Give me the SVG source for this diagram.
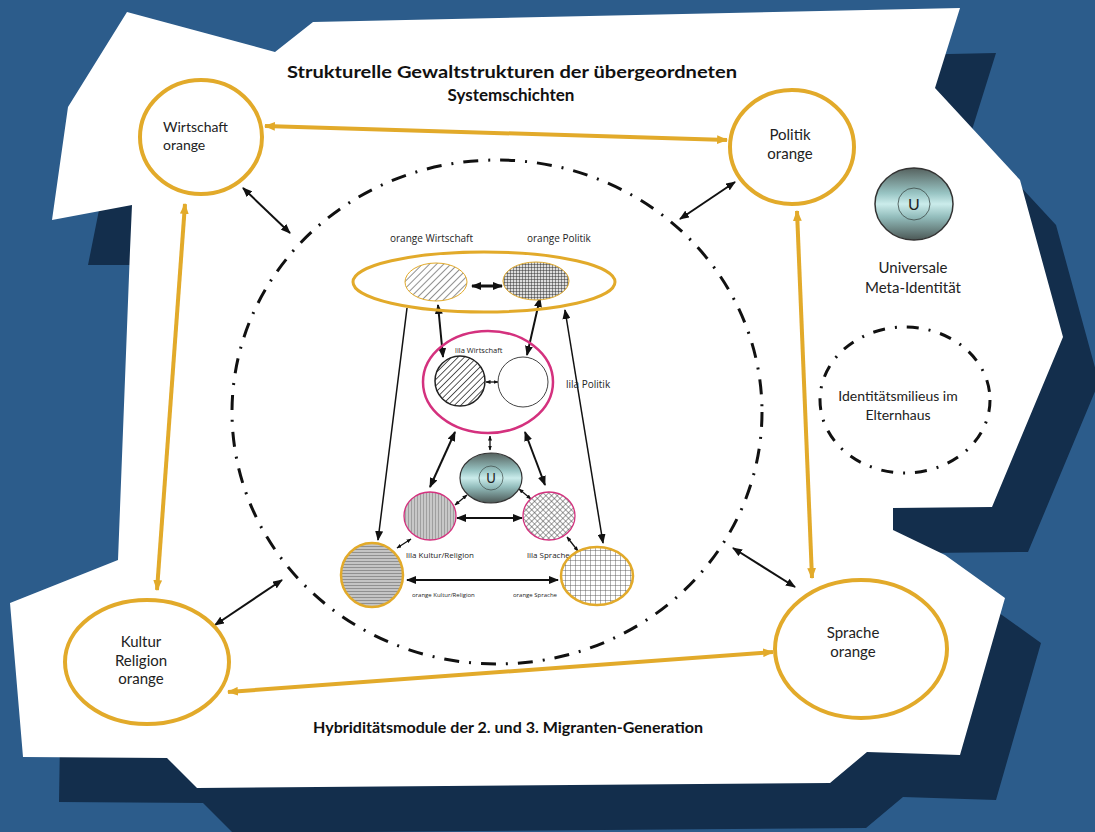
<svg xmlns="http://www.w3.org/2000/svg" width="1095" height="832" viewBox="0 0 1095 832">
<style>
.t{font-family:Lato,"Open Sans","Liberation Sans",sans-serif;fill:#222}
.ts{font-family:"Open Sans","Liberation Sans",sans-serif;fill:#222;opacity:0.99}
.tb{font-family:Lato,"Open Sans","Liberation Sans",sans-serif;fill:#111;font-weight:bold}
.big{fill:#fff;stroke:#e2aa2a;stroke-width:4}
.oc{fill:none;stroke:#e2aa2a;stroke-width:4;marker-start:url(#ao);marker-end:url(#ao)}
.bk{fill:none;stroke:#111;stroke-width:2;marker-start:url(#ab);marker-end:url(#ab)}
.bks{fill:none;stroke:#111;stroke-width:1.3;marker-start:url(#as);marker-end:url(#as)}
.dd{fill:none;stroke:#111;stroke-width:3;stroke-dasharray:15 10 2 10}
.pk{stroke:#d4317e}
</style>
<defs>
<marker id="ab" viewBox="0 0 10 8" refX="9" refY="4" markerWidth="10" markerHeight="8" markerUnits="userSpaceOnUse" orient="auto-start-reverse"><path d="M0,0L10,4L0,8z" fill="#111"/></marker>
<marker id="as" viewBox="0 0 10 8" refX="9" refY="4" markerWidth="5" markerHeight="4" markerUnits="userSpaceOnUse" orient="auto-start-reverse"><path d="M0,0L10,4L0,8z" fill="#111"/></marker>
<marker id="ao" viewBox="0 0 10 8" refX="9" refY="4" markerWidth="11" markerHeight="9" markerUnits="userSpaceOnUse" orient="auto-start-reverse"><path d="M0,0L10,4L0,8z" fill="#e2aa2a"/></marker>
<pattern id="pDiag" width="5" height="5" patternUnits="userSpaceOnUse" patternTransform="rotate(45)"><rect width="5" height="5" fill="#fff"/><line x1="0" y1="0" x2="0" y2="5" stroke="#555" stroke-width="1.3"/></pattern>
<pattern id="pDiagD" width="4.5" height="4.5" patternUnits="userSpaceOnUse" patternTransform="rotate(45)"><rect width="5" height="5" fill="#fff"/><line x1="0" y1="0" x2="0" y2="5" stroke="#222" stroke-width="1.5"/></pattern>
<pattern id="pGrid" width="3" height="3" patternUnits="userSpaceOnUse"><rect width="3" height="3" fill="#ddd"/><path d="M0,0H3M0,0V3" stroke="#333" stroke-width="1"/></pattern>
<pattern id="pHor" width="4" height="3" patternUnits="userSpaceOnUse"><rect width="4" height="3" fill="#c4c4c4"/><path d="M0,0H4" stroke="#666" stroke-width="1.1"/></pattern>
<pattern id="pVer" width="3" height="4" patternUnits="userSpaceOnUse"><rect width="3" height="4" fill="#c8c8c8"/><path d="M0,0V4" stroke="#777" stroke-width="1"/></pattern>
<pattern id="pDia" width="4" height="4" patternUnits="userSpaceOnUse" patternTransform="rotate(45)"><rect width="4" height="4" fill="#fff"/><path d="M0,0H4M0,0V4" stroke="#444" stroke-width="1"/></pattern>
<pattern id="pOpen" width="5" height="5" patternUnits="userSpaceOnUse"><rect width="5" height="5" fill="#fff"/><path d="M0,0H5M0,0V5" stroke="#555" stroke-width="0.9"/></pattern>
<linearGradient id="gU" x1="0" y1="0" x2="0" y2="1">
<stop offset="0" stop-color="#56625f"/><stop offset="0.35" stop-color="#98c4c3"/><stop offset="0.5" stop-color="#cbeceb"/><stop offset="0.68" stop-color="#93bdbc"/><stop offset="1" stop-color="#4c5856"/>
</linearGradient>
</defs>

<g id="background">
<rect width="1095" height="832" fill="#2c5c8b"/>
<polygon fill="#132e4c" points="163,57 311,97 349,67 996,53 971,133 1056,225 1099,382 1028,552 929,553 929,575 981,600 1041,643 996,800 903,797 866,828 233,833 203,803 59,802 60,740 140,600 140,265 88,265 100,205 140,200"/>
<polygon fill="#fff" points="127,12 275,52 313,22 960,8 935,88 1020,180 1063,337 992,507 893,508 893,530 945,555 1005,598 960,755 867,752 830,783 197,788 167,758 23,757 10,603 118,560 130,250 132,205 52,220 68,107"/>
</g>

<g id="titles">
<text class="tb" x="512" y="78" font-size="17" text-anchor="middle" textLength="450" lengthAdjust="spacingAndGlyphs">Strukturelle Gewaltstrukturen der übergeordneten</text>
<text class="tb" x="511" y="101" font-size="17" text-anchor="middle">Systemschichten</text>
<text class="tb" x="508" y="733" font-size="15" text-anchor="middle" textLength="390" lengthAdjust="spacingAndGlyphs">Hybriditätsmodule der 2. und 3. Migranten-Generation</text>
</g>

<g id="milieu-circle">
<ellipse class="dd" cx="497" cy="412" rx="265" ry="252"/>
</g>

<g id="connectors">
<path class="oc" d="M265,126L727,140"/>
<path class="oc" d="M185,204L157,590"/>
<path class="oc" d="M797,211L812,578"/>
<path class="oc" d="M228,692L773,652"/>
<path class="bk" d="M243,188L290,233"/>
<path class="bk" d="M735,182L680,219"/>
<path class="bk" d="M215,625L282,580"/>
<path class="bk" d="M733,548L795,587"/>
<path class="bk" d="M472,286L502,286" style="stroke-width:3"/>
<path class="bk" d="M438,305L443,357"/>
<path class="bk" d="M540,298L527,355"/>
<path d="M407,308L378,540" style="fill:none;stroke:#111;stroke-width:1.5;marker-end:url(#ab)"/>
<path class="bk" d="M565,310L603,543" style="stroke-width:1.5"/>
<path class="bks" d="M486,382L498,382"/>
<path class="bks" d="M490,436L490,450"/>
<path class="bk" d="M455,432L430,487"/>
<path class="bk" d="M525,432L545,485"/>
<path class="bks" d="M455,505L467,495"/>
<path class="bks" d="M519,489L531,499"/>
<path class="bk" d="M457,518L522,518"/>
<path class="bks" d="M397,548L411,539"/>
<path class="bks" d="M567,537L578,551"/>
<path class="bk" d="M407,580L558,580"/>
</g>

<g id="wirtschaft">
<ellipse class="big" cx="201" cy="137" rx="61" ry="57"/>
<text class="t" x="163" y="132" font-size="14">Wirtschaft</text>
<text class="t" x="163" y="150" font-size="14">orange</text>
</g>
<g id="politik">
<ellipse class="big" cx="792" cy="147" rx="62" ry="57"/>
<text class="t" x="790" y="140" font-size="15" text-anchor="middle">Politik</text>
<text class="t" x="790" y="159" font-size="15" text-anchor="middle">orange</text>
</g>
<g id="kultur">
<ellipse class="big" cx="147" cy="662" rx="82" ry="62"/>
<text class="t" x="141" y="647" font-size="15" text-anchor="middle">Kultur</text>
<text class="t" x="141" y="666" font-size="15" text-anchor="middle">Religion</text>
<text class="t" x="141" y="684" font-size="15" text-anchor="middle">orange</text>
</g>
<g id="sprache">
<ellipse class="big" cx="861" cy="649" rx="86" ry="69"/>
<text class="t" x="853" y="638" font-size="15" text-anchor="middle">Sprache</text>
<text class="t" x="853" y="657" font-size="15" text-anchor="middle">orange</text>
</g>

<g id="legend-u">
<ellipse cx="914" cy="204" rx="39" ry="36" fill="url(#gU)" stroke="#333" stroke-width="1.5"/>
<circle cx="914" cy="204" r="16" fill="none" stroke="#3d4a48" stroke-width="0.8"/>
<text class="t" x="914" y="210" font-size="16" text-anchor="middle">U</text>
<text class="t" x="913" y="273" font-size="15" text-anchor="middle">Universale</text>
<text class="t" x="913" y="293" font-size="15" text-anchor="middle">Meta-Identität</text>
</g>
<g id="legend-milieu">
<ellipse cx="905" cy="400" rx="85" ry="73" fill="none" stroke="#111" stroke-width="3" stroke-dasharray="12 10 2 10"/>
<text class="t" x="898" y="401" font-size="14" text-anchor="middle">Identitätsmilieus im</text>
<text class="t" x="898" y="420" font-size="14" text-anchor="middle">Elternhaus</text>
</g>

<g id="orange-layer">
<ellipse cx="484" cy="282" rx="131" ry="30" fill="none" stroke="#e2aa2a" stroke-width="3"/>
<text class="ts" x="390" y="242" font-size="10">orange Wirtschaft</text>
<text class="ts" x="527" y="242" font-size="10">orange Politik</text>
</g>
<g id="orange-wirtschaft">
<ellipse cx="436" cy="282" rx="31" ry="19" fill="url(#pDiag)" stroke="#e2aa2a" stroke-width="1"/>
</g>
<g id="orange-politik">
<ellipse cx="536" cy="281" rx="33" ry="19" fill="url(#pGrid)" stroke="#e2aa2a" stroke-width="1"/>
</g>
<g id="lila-layer">
<ellipse cx="488" cy="382" rx="65" ry="51" fill="none" class="pk" stroke-width="2.5"/>
<text class="ts" x="455" y="353" font-size="7.5">lila Wirtschaft</text>
</g>
<g id="lila-wirtschaft">
<circle cx="460" cy="381" r="25" fill="url(#pDiagD)" stroke="#222" stroke-width="1.5"/>
</g>
<g id="lila-politik">
<circle cx="523" cy="382" r="25" fill="#fff" stroke="#444" stroke-width="1"/>
<text class="ts" x="566" y="388" font-size="10">lila Politik</text>
</g>
<g id="u-center">
<ellipse cx="491" cy="478" rx="31" ry="25" fill="url(#gU)" stroke="#333" stroke-width="1.2"/>
<circle cx="491" cy="478" r="12" fill="none" stroke="#3d4a48" stroke-width="0.7"/>
<text class="t" x="491" y="483" font-size="13" text-anchor="middle">U</text>
</g>
<g id="lila-kultur">
<ellipse cx="430" cy="516" rx="26" ry="24" fill="url(#pVer)" class="pk" stroke-width="1.3"/>
<text class="ts" x="406" y="558" font-size="8">lila Kultur/Religion</text>
</g>
<g id="lila-sprache">
<ellipse cx="549" cy="516" rx="26" ry="24" fill="url(#pDia)" class="pk" stroke-width="1.3"/>
<text class="ts" x="527" y="558" font-size="8">lila Sprache</text>
</g>
<g id="orange-kultur">
<ellipse cx="372" cy="575" rx="31" ry="32" fill="url(#pHor)" stroke="#e2aa2a" stroke-width="2.5"/>
<text class="ts" x="412" y="597" font-size="6">orange Kultur/Religion</text>
</g>
<g id="orange-sprache">
<ellipse cx="597" cy="576" rx="36" ry="29" fill="url(#pOpen)" stroke="#e2aa2a" stroke-width="2.5"/>
<text class="ts" x="513" y="597" font-size="6">orange Sprache</text>
</g>
</svg>
